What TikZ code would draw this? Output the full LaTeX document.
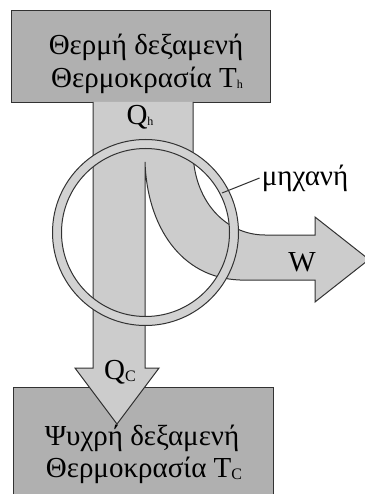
\documentclass[tikz,border=0pt]{standalone}
\usepackage{fontspec}
\setmainfont{Liberation Serif}
\definecolor{tankgray}{RGB}{176,176,176}
\definecolor{flowgray}{RGB}{204,204,204}
\definecolor{ringgray}{RGB}{210,210,210}
\definecolor{edgegray}{RGB}{50,50,50}
\newcommand{\subh}[1]{\raisebox{-1.5pt}{\fontsize{12}{12}\selectfont #1}}
\newcommand{\subc}[1]{\raisebox{-2pt}{\fontsize{16}{16}\selectfont #1}}

\begin{document}
\begin{tikzpicture}[x=1pt,y=-1pt,
  lbl/.style={inner sep=0pt,font=\fontsize{29}{33}\selectfont},
  tank/.style={draw=edgegray,fill=tankgray,line width=1pt}]
  \useasboundingbox (0,0) rectangle (364,494);
  % reservoirs
  \draw[tank] (11,11) rectangle (270,103);
  \draw[tank] (13,387) rectangle (273,500);
  % heat flow: Q_h in, split into Q_c and W
  \draw[draw=edgegray,fill=flowgray,line width=1pt]
    (93,102) -- (93,368) -- (75,368) -- (117,424) -- (159,368) -- (145,368) -- (145,162)
    .. controls (147,225) and (180,278) .. (240,280) -- (315,280) -- (315,302)
    -- (369,259.5) -- (315,217) -- (315,235) -- (265,235)
    .. controls (225,235) and (193,200) .. (193,150) -- (193,102);
  % engine ring
  \coordinate (eng) at (145.5,232.5);
  \draw[draw=edgegray,fill=ringgray,even odd rule,line width=1pt]
    (eng) circle[radius=93] (eng) circle[radius=84];
  % labels
  \node[lbl] (hot1) at (146,47) {Θερμή δεξαμενή};
  \node[lbl] (hot2) at (147,80) {Θερμοκρασία T\subh{h}};
  \node[lbl] (qh) at (140,117) {Q\subh{h}};
  \node[lbl] (mech) at (305,178) {μηχανή};
  \node[lbl] (work) at (302,262) {W};
  \node[lbl] (qc) at (120,372) {Q\subc{C}};
  \node[lbl] (cold1) at (142,438) {Ψυχρή δεξαμενή};
  \node[lbl] (cold2) at (144,470) {Θερμοκρασία T\subc{C}};
  % leader to the engine
  \coordinate (ringpt) at (222,193);
  \draw[edgegray,line width=1pt] (ringpt) -- ([xshift=-2pt]mech.west);
\end{tikzpicture}
\end{document}
